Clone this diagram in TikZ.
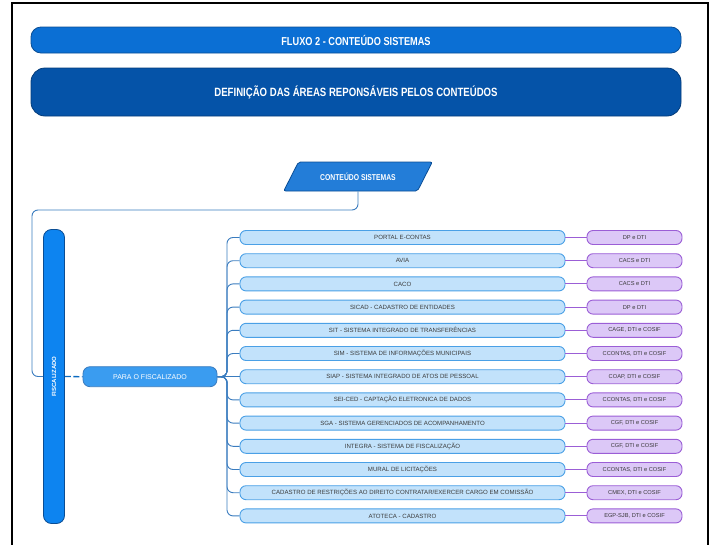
\documentclass[tikz,border=0pt]{standalone}
\usepackage{fontspec}
\setmainfont{Liberation Sans}
\newfontfamily\condfont[FakeStretch=0.8]{Liberation Sans}
\usetikzlibrary{shapes.geometric}
\definecolor{barblue}{HTML}{0B6FD4}
\definecolor{bardark}{HTML}{0A4D94}
\definecolor{navyblue}{HTML}{0553A8}
\definecolor{navydark}{HTML}{043C7A}
\definecolor{fiscblue}{HTML}{0D84F0}
\definecolor{parablue}{HTML}{3A9CF0}
\definecolor{sysfill}{HTML}{C2E2FB}
\definecolor{sysline}{HTML}{4AA0E6}
\definecolor{areafill}{HTML}{DCC8F7}
\definecolor{arealine}{HTML}{9B5ED6}
\definecolor{linkblue}{HTML}{3A7CBF}
\definecolor{textgray}{HTML}{3A3A3A}

\begin{document}
\begin{tikzpicture}[x=1pt,y=-1pt,
    headbar/.style={draw=bardark, line width=0.8pt, fill=barblue, rounded corners=10pt,
      minimum width=650pt, minimum height=26pt, text=white,
      font=\condfont\bfseries\fontsize{11.5}{13}\selectfont},
    titlebar/.style={headbar, draw=navydark, fill=navyblue, rounded corners=14pt,
      minimum height=48pt, font=\condfont\bfseries\fontsize{12}{14}\selectfont},
    sysbox/.style={draw=sysline, line width=0.9pt, fill=sysfill, rounded corners=6pt,
      minimum width=325pt, minimum height=14pt, inner sep=1pt, text=textgray,
      font=\fontsize{6.1}{7}\selectfont},
    areabox/.style={sysbox, draw=arealine, fill=areafill, minimum width=95pt,
      font=\fontsize{5.7}{6}\selectfont},
    link/.style={draw=linkblue, line width=0.9pt, rounded corners=6pt},
    arealink/.style={draw=arealine, line width=1pt}]
  \useasboundingbox (0,0) rectangle (718,544);
  \draw [line width=2pt] (12,546) -- (12,3) -- (708,3) -- (708,546);

  \node [headbar] (h) at (356,40) {FLUXO 2 - CONTEÚDO SISTEMAS};
  \node [titlebar] (t) at (356,92) {DEFINIÇÃO DAS ÁREAS REPONSÁVEIS PELOS CONTEÚDOS};
  \node [trapezium, trapezium left angle=45, trapezium right angle=135, trapezium stretches=true,
    draw=bardark, line width=0.8pt, fill=barblue!90!white, rounded corners=2pt,
    minimum width=149pt, minimum height=29pt, inner sep=1pt, text=white,
    font=\condfont\bfseries\fontsize{8.5}{9}\selectfont] (c) at (358,176.5) {CONTEÚDO SISTEMAS};

  \node [draw=bardark, line width=0.8pt, fill=fiscblue, rounded corners=8pt,
    minimum width=21pt, minimum height=294pt, inner sep=0pt, text=white,
    font=\bfseries\fontsize{6}{7}\selectfont] (f) at (54,376.5) {\rotatebox{90}{FISCALIZADO}};
  \node [draw=linkblue, line width=0.8pt, fill=parablue, rounded corners=7pt,
    minimum width=134pt, minimum height=20pt, inner sep=1pt, text=white,
    font=\fontsize{7}{8}\selectfont] (p) at (150,376.7) {PARA O FISCALIZADO};

  \node [sysbox] (s1) at (402.5,237.5) {PORTAL E-CONTAS};
  \node [sysbox] (s2) at (402.5,260.7) {AVIA};
  \node [sysbox] (s3) at (402.5,283.9) {CACO};
  \node [sysbox] (s4) at (402.5,307.1) {SICAD - CADASTRO DE ENTIDADES};
  \node [sysbox] (s5) at (402.5,330.3) {SIT - SISTEMA INTEGRADO DE TRANSFERÊNCIAS};
  \node [sysbox] (s6) at (402.5,353.5) {SIM - SISTEMA DE INFORMAÇÕES MUNICIPAIS};
  \node [sysbox] (s7) at (402.5,376.7) {SIAP - SISTEMA INTEGRADO DE ATOS DE PESSOAL};
  \node [sysbox] (s8) at (402.5,399.9) {SEI-CED - CAPTAÇÃO ELETRONICA DE DADOS};
  \node [sysbox] (s9) at (402.5,423.1) {SGA - SISTEMA GERENCIADOS DE ACOMPANHAMENTO};
  \node [sysbox] (s10) at (402.5,446.3) {INTEGRA - SISTEMA DE FISCALIZAÇÃO};
  \node [sysbox] (s11) at (402.5,469.5) {MURAL DE LICITAÇÕES};
  \node [sysbox] (s12) at (402.5,492.7) {CADASTRO DE RESTRIÇÕES AO DIREITO CONTRATAR/EXERCER CARGO EM COMISSÃO};
  \node [sysbox] (s13) at (402.5,515.9) {ATOTECA - CADASTRO};

  \node [areabox] (r1) at (634.5,237.5) {DP e DTI};
  \node [areabox] (r2) at (634.5,260.7) {CACS e DTI};
  \node [areabox] (r3) at (634.5,283.9) {CACS e DTI};
  \node [areabox] (r4) at (634.5,307.1) {DP e DTI};
  \node [areabox] (r5) at (634.5,330.3) {CAGE, DTI e COSIF};
  \node [areabox] (r6) at (634.5,353.5) {CCONTAS, DTI e COSIF};
  \node [areabox] (r7) at (634.5,376.7) {COAP, DTI e COSIF};
  \node [areabox] (r8) at (634.5,399.9) {CCONTAS, DTI e COSIF};
  \node [areabox] (r9) at (634.5,423.1) {CGF, DTI e COSIF};
  \node [areabox] (r10) at (634.5,446.3) {CGF, DTI e COSIF};
  \node [areabox] (r11) at (634.5,469.5) {CCONTAS, DTI e COSIF};
  \node [areabox] (r12) at (634.5,492.7) {CMEX, DTI e COSIF};
  \node [areabox] (r13) at (634.5,515.9) {EGP-SJB, DTI e COSIF};

  % path from the parallelogram round to the vertical bar
  \coordinate (k) at (32,210);
  \draw [link] (c.south) |- (k) |- (f.west);
  \draw [draw=fiscblue!80!black, line width=1.3pt, dash pattern=on 6pt off 2.5pt] (f.east) -- (p.west);

  % brace to the systems
  \coordinate (bx) at (227,376.7);
  \draw [link] (p.east) -| (bx |- s1.west) -- (s1.west);
  \draw [link] (p.east) -| (bx |- s2.west) -- (s2.west);
  \draw [link] (p.east) -| (bx |- s3.west) -- (s3.west);
  \draw [link] (p.east) -| (bx |- s4.west) -- (s4.west);
  \draw [link] (p.east) -| (bx |- s5.west) -- (s5.west);
  \draw [link] (p.east) -| (bx |- s6.west) -- (s6.west);
  \draw [link] (p.east) -- (s7.west);
  \draw [link] (p.east) -| (bx |- s8.west) -- (s8.west);
  \draw [link] (p.east) -| (bx |- s9.west) -- (s9.west);
  \draw [link] (p.east) -| (bx |- s10.west) -- (s10.west);
  \draw [link] (p.east) -| (bx |- s11.west) -- (s11.west);
  \draw [link] (p.east) -| (bx |- s12.west) -- (s12.west);
  \draw [link] (p.east) -| (bx |- s13.west) -- (s13.west);

  % systems to areas
  \draw [arealink] (s1) -- (r1);
  \draw [arealink] (s2) -- (r2);
  \draw [arealink] (s3) -- (r3);
  \draw [arealink] (s4) -- (r4);
  \draw [arealink] (s5) -- (r5);
  \draw [arealink] (s6) -- (r6);
  \draw [arealink] (s7) -- (r7);
  \draw [arealink] (s8) -- (r8);
  \draw [arealink] (s9) -- (r9);
  \draw [arealink] (s10) -- (r10);
  \draw [arealink] (s11) -- (r11);
  \draw [arealink] (s12) -- (r12);
  \draw [arealink] (s13) -- (r13);
\end{tikzpicture}
\end{document}
